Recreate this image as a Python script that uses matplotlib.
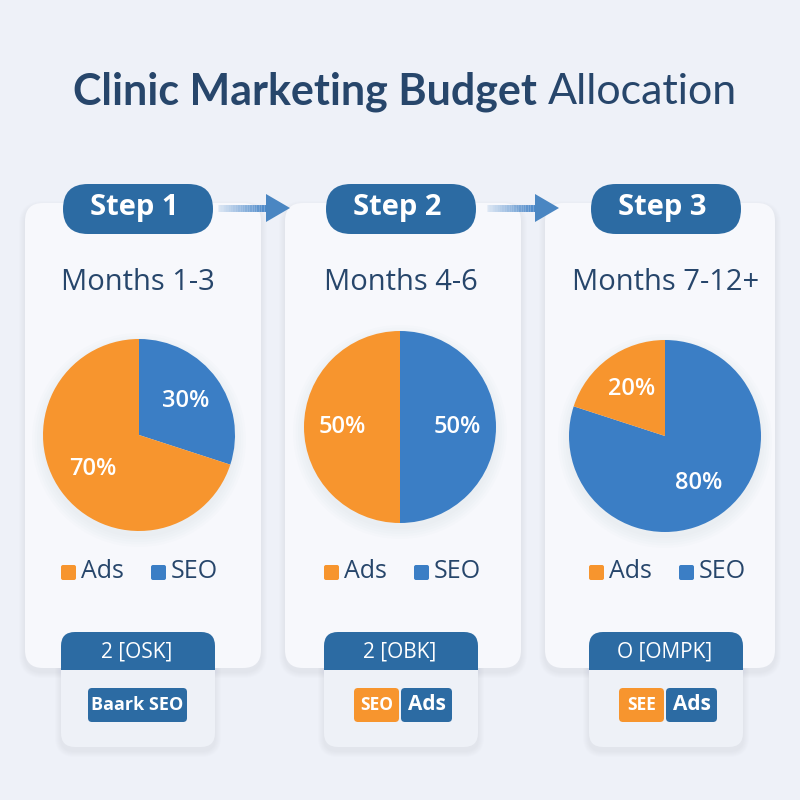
import matplotlib.pyplot as plt
from matplotlib.patches import FancyBboxPatch, Circle

# data
steps = ['Step 1', 'Step 2', 'Step 3']
periods = ['Months 1-3', 'Months 4-6', 'Months 7-12+']
ads_share = [70, 50, 20]
seo_share = [30, 50, 80]
box_headers = ['2 [OSK]', '2 [OBK]', 'O [OMPK]']
box_tags = [[('Baark SEO', 'blue')],
            [('SEO', 'orange'), ('Ads', 'blue')],
            [('SEE', 'orange'), ('Ads', 'blue')]]

ORANGE = '#F7952E'
BLUE = '#3B7EC5'
DARK_BLUE = '#2C6BA3'
NAVY = '#27466B'
BG = '#EEF1F8'
CARD = '#F7F8FC'

plt.rcParams['font.family'] = ['Lato', 'DejaVu Sans']
OPEN = ['Open Sans', 'DejaVu Sans']

fig = plt.figure(figsize=(8, 8), dpi=100)
fig.patch.set_facecolor(BG)
bg = fig.add_axes([0, 0, 1, 1])
bg.set_xlim(0, 800)
bg.set_ylim(800, 0)
bg.axis('off')


def rbox(ax, x, y, w, h, r, color, z=1, alpha=1.0):
    p = FancyBboxPatch((x, y), w, h, boxstyle=f'round,pad=0,rounding_size={r}',
                       fc=color, ec='none', zorder=z, alpha=alpha)
    ax.add_patch(p)
    return p


def shadow(ax, x, y, w, h, r, z=0.5):
    for k in range(6):
        g = 2 + k * 2
        rbox(ax, x - g / 2, y - g / 2 + 4, w + g, h + g, r + g / 2, '#9AA6BF', z, 0.025)


# title, bold part + regular part, centered together
t1 = bg.text(400, 92, 'Clinic Marketing Budget ', ha='right', va='center', fontsize=31,
             fontweight='bold', color=NAVY)
t2 = bg.text(400, 92, 'Allocation', ha='left', va='center', fontsize=31, color=NAVY)
fig.canvas.draw()
r = fig.canvas.get_renderer()
w1 = t1.get_window_extent(r).width
w2 = t2.get_window_extent(r).width
split = 405 - (w1 + w2) / 2 + w1
t1.set_x(split)
t2.set_x(split)

cards_x = [25, 285, 545]
card_w = [236, 236, 230]
centers = [138, 401, 666]

for i in range(3):
    cx = centers[i]
    # card
    shadow(bg, cards_x[i], 203, card_w[i], 465, 18)
    rbox(bg, cards_x[i], 203, card_w[i], 465, 18, CARD, 1)
    # step pill
    rbox(bg, cx - 75, 184, 150, 50, 25, DARK_BLUE, 3)
    bg.text(cx - 4, 208, steps[i], ha='center', va='center', fontsize=21,
            fontweight='bold', color='white', zorder=4, family=OPEN)
    # period
    bg.text(cx, 282, periods[i], ha='center', va='center', fontsize=21,
            color=NAVY, zorder=4, family=OPEN)
    # legend
    lx = cx - 77
    rbox(bg, lx, 565, 15, 15, 2, ORANGE, 4)
    bg.text(lx + 20, 572, 'Ads', ha='left', va='center', fontsize=18, color=NAVY,
            zorder=4, family=OPEN)
    rbox(bg, lx + 90, 565, 15, 15, 2, BLUE, 4)
    bg.text(lx + 110, 572, 'SEO', ha='left', va='center', fontsize=18, color=NAVY,
            zorder=4, family=OPEN)
    # bottom box
    bx = cx - 77
    shadow(bg, bx, 632, 154, 115, 14)
    rbox(bg, bx, 632, 154, 115, 14, '#EEF1F7', 5)
    rbox(bg, bx, 632, 154, 38, 14, DARK_BLUE, 6)
    bg.add_patch(plt.Rectangle((bx, 655), 154, 15, fc=DARK_BLUE, ec='none', zorder=6))
    bg.text(cx - 1, 652, box_headers[i], ha='center', va='center', fontsize=15,
            color='white', zorder=7, family=OPEN)
    tags = box_tags[i]
    if len(tags) == 1:
        rbox(bg, cx - 50, 688, 99, 34, 4, DARK_BLUE, 7)
        bg.text(cx - 1, 705, tags[0][0], ha='center', va='center', fontsize=13,
                fontweight='bold', color='white', zorder=8, family=OPEN)
    else:
        widths = [45, 51]
        x0 = cx - 47
        for (lab, col), w in zip(tags, widths):
            c = ORANGE if col == 'orange' else DARK_BLUE
            rbox(bg, x0, 688, w, 34, 4, c, 7)
            bg.text(x0 + w / 2, 705, lab, ha='center', va='center',
                    fontsize=15 if col == 'blue' else 12.5,
                    fontweight='bold', color='white', zorder=8, family=OPEN)
            x0 += w + 2

# arrows between steps
for ax0 in [218, 487]:
    for k in range(20):
        bg.plot([ax0 + k * 2.4, ax0 + (k + 1) * 2.4], [208, 208], color=BLUE,
                lw=5, alpha=0.15 + 0.04 * k, solid_capstyle='butt', zorder=2)
    bg.add_patch(plt.Polygon([[ax0 + 48, 194], [ax0 + 72, 208], [ax0 + 48, 222]],
                             fc='#4A86C2', ec='none', zorder=2))

# pies
pie_cy = [435, 427, 436]
pie_cx = [139, 400, 665]
radius = 96
for i in range(3):
    cx, cy = pie_cx[i], pie_cy[i]
    for k in range(5):
        bg.add_patch(Circle((cx, cy + 5), radius + 1 + k * 2.5, fc='#8A96B0',
                            ec='none', alpha=0.018, zorder=1.5))
    ax = fig.add_axes([(cx - radius) / 800, 1 - (cy + radius) / 800,
                       2 * radius / 800, 2 * radius / 800])
    ax.pie([seo_share[i], ads_share[i]], colors=[BLUE, ORANGE],
           startangle=90, counterclock=False,
           autopct='%d%%', pctdistance=0.6,
           textprops=dict(color='white', fontsize=17, fontweight='semibold',
                          family=OPEN))
    ax.set_xlim(-1, 1)
    ax.set_ylim(-1, 1)
    ax.set_aspect('equal')

fig.savefig('out.png', dpi=100, facecolor=BG)
